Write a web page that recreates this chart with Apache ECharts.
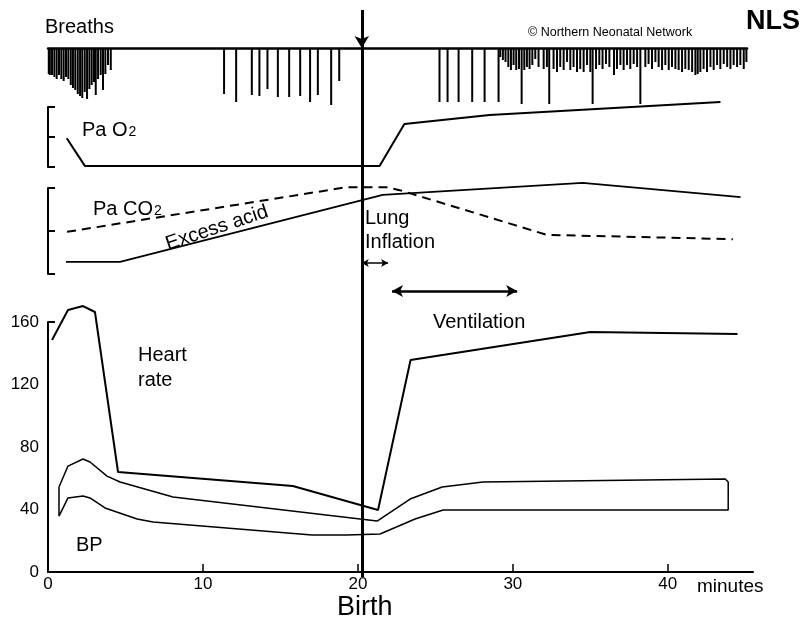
<!DOCTYPE html>
<html><head><meta charset="utf-8">
<script src="https://cdn.jsdelivr.net/npm/echarts@6/dist/echarts.min.js"></script>
<style>html,body{margin:0;padding:0;background:#fff}#c{width:804px;height:618px}</style>
</head><body><div id="c"></div>
<script>
// ---- Data (time in minutes) ----
const fetalBreathTimes = [0.05,0.12,0.26,0.41,0.56,0.71,0.86,1.01,1.16,1.31,1.47,1.61,1.76,1.92,2.07,2.21,2.37,2.52,2.67,2.82,2.97,3.08,3.23,3.40,3.55,3.70,3.87,4.05];
const fetalBreathDepths = [26,27,27,29,31,27,31,33,29,31,37,40,42,46,48,50,44,51,41,37,34,47,31,27,42,26,17,22];
const gaspTimes = [11.36,12.14,13.15,13.64,14.16,14.83,15.56,16.27,16.91,17.41,18.27,18.79];
const gaspDepths = [46,54,47,48,41,49,49,48,54,47,57,33];
const firstBreathTimes = [25.26,25.78,26.49,27.37,28.17,29.07];
const firstBreathDepths = [54,54,54,54,54,54];
const regularBreathTimes = [29.18,29.35,29.52,29.70,29.87,30.04,30.21,30.39,30.56,30.73,30.90,31.07,31.25,31.44,31.65,31.98,32.19,32.34,32.62,32.84,33.05,33.27,33.49,33.70,33.91,34.13,34.34,34.56,34.78,34.99,35.14,35.36,35.57,35.78,36.00,36.22,36.52,36.71,36.93,37.14,37.36,37.57,37.79,38.01,38.22,38.54,38.75,38.97,39.19,39.40,39.62,39.83,40.05,40.26,40.48,40.69,40.91,41.12,41.34,41.56,41.77,41.92,42.09,42.30,42.52,42.74,42.95,43.17,43.38,43.60,43.82,44.03,44.24,44.46,44.67,44.89,45.06];
const regularBreathDepths = [9,12,14,19,22,17,22,21,56,22,19,21,17,11,19,21,19,56,21,24,19,22,14,22,19,24,21,24,17,24,56,21,17,21,16,19,27,21,17,22,17,21,16,19,56,19,16,21,14,19,22,17,22,19,21,22,24,21,22,24,27,26,24,21,24,19,22,17,21,16,19,21,17,19,17,21,14];

const pao2Times = [1.21, 2.39, 21.4, 23.0, 28.5, 43.4];
const pao2Values = [0.96, 0.03, 0.03, 1.43, 1.73, 2.17];
const paco2Times = [1.23, 19.3, 21.8, 22.7, 32.2, 44.2];
const paco2Values = [0.98, 2.02, 2.02, 1.95, 0.91, 0.81];
const acidTimes = [1.16, 4.65, 21.6, 34.5, 44.7];
const acidValues = [0.28, 0.28, 1.84, 2.12, 1.79];

const hrTimes = [0.26, 1.29, 2.26, 3.03, 4.52, 15.8, 21.3, 23.4, 35.0, 44.5];
const hrValues = [148.5, 167.7, 170.2, 166.4, 64, 55, 39.7, 135.7, 153.6, 152.3];
const bpUpperTimes = [0.71, 1.29, 2.26, 2.71, 3.81, 4.65, 8.07, 21.24, 23.37, 25.44, 28.08, 43.71, 43.9];
const bpUpperValues = [54.4, 67.8, 72.3, 70.4, 61.4, 57.6, 48, 32.6, 46.7, 54.4, 57.6, 59.5, 57.6];
const bpLowerTimes = [0.71, 1.29, 2.26, 2.71, 3.68, 5.75, 6.78, 17.04, 19.3, 21.43, 23.69, 25.5, 43.9];
const bpLowerValues = [35.8, 47.4, 48.6, 47.4, 41, 33.9, 32, 23.7, 23.7, 24.3, 33.9, 39.7, 39.7];

const xTickLabels = [0, 10, 20, 30, 40];
const yTickLabels = [0, 40, 80, 120, 160];
const birthTime = 20.25;
const lungInflation = [20.25, 21.95];
const ventilation = [22.2, 30.28];

// ---- Build ----
const FONT = 'Liberation Sans, Arial, Helvetica, sans-serif';
const zip = (a, b) => a.map((t, i) => [t, b[i]]);
const breaths = [].concat(
  zip(fetalBreathTimes, fetalBreathDepths),
  zip(gaspTimes, gaspDepths),
  zip(firstBreathTimes, firstBreathDepths),
  zip(regularBreathTimes, regularBreathDepths)
);
const bpUpper = zip(bpUpperTimes, bpUpperValues);
const bpLower = zip(bpLowerTimes, bpLowerValues);
const bpPolygon = bpUpper.concat(bpLower.slice().reverse(), [bpUpper[0]]);

const XMAX = 45.5, LEFT = 48, WIDTH = 705;
const hiddenX = (g, max) => ({gridIndex: g, type: 'value', min: 0, max: max || XMAX, show: false});
const bracketY = (g) => ({
  gridIndex: g, type: 'value', min: 0, max: 2, interval: 1,
  axisLine: {show: true, lineStyle: {color: '#000', width: 2}},
  axisTick: {show: true, inside: true, length: 7, lineStyle: {color: '#000', width: 2}},
  axisLabel: {show: false}, splitLine: {show: false}
});
const blackLine = (w, type) => ({color: '#000', width: w, type: type || 'solid'});

const chart = echarts.init(document.getElementById('c'), null, {renderer: 'canvas'});
const option = {
  animation: false,
  backgroundColor: '#fff',
  grid: [
    {left: LEFT, top: 48, width: 699, height: 60},
    {left: LEFT, top: 107, width: WIDTH, height: 60},
    {left: LEFT, top: 188, width: WIDTH, height: 86},
    {left: LEFT, top: 322, width: WIDTH, height: 250},
    {left: LEFT, top: 0, width: WIDTH, height: 618}
  ],
  xAxis: [
    {gridIndex: 0, type: 'value', min: 0, max: 45.1, position: 'top',
     axisLine: {show: true, lineStyle: {color: '#000', width: 2.5}},
     axisTick: {show: false}, axisLabel: {show: false}, splitLine: {show: false}},
    hiddenX(1), hiddenX(2),
    {gridIndex: 3, type: 'value', min: 0, max: XMAX, interval: 10,
     axisLine: {show: true, lineStyle: {color: '#000', width: 2}},
     axisTick: {show: true, inside: true, length: 8, customValues: [10, 20, 30, 40], lineStyle: {color: '#000', width: 1.5}},
     axisLabel: {show: true, customValues: xTickLabels, color: '#000', fontSize: 17, fontFamily: FONT, margin: 4,
       formatter: v => (xTickLabels.indexOf(v) >= 0 ? String(v) : '')},
     splitLine: {show: false}},
    hiddenX(4)
  ],
  yAxis: [
    {gridIndex: 0, type: 'value', min: 0, max: 60, inverse: true, show: false},
    bracketY(1), bracketY(2),
    {gridIndex: 3, type: 'value', min: 0, max: 160, interval: 40,
     axisLine: {show: true, lineStyle: {color: '#000', width: 2}},
     axisTick: {show: false},
     axisLabel: {show: true, color: '#000', fontSize: 17, fontFamily: FONT, margin: 9,
       formatter: v => (yTickLabels.indexOf(v) >= 0 ? String(v) : '')},
     splitLine: {show: false}},
    {gridIndex: 4, type: 'value', min: 0, max: 618, inverse: true, show: false}
  ],
  series: [
    {name: 'Breaths', type: 'bar', xAxisIndex: 0, yAxisIndex: 0, data: breaths,
     barWidth: 2, itemStyle: {color: '#000'}, silent: true, clip: false},
    {name: 'PaO2', type: 'line', xAxisIndex: 1, yAxisIndex: 1, data: zip(pao2Times, pao2Values),
     showSymbol: false, symbol: 'none', clip: false, lineStyle: blackLine(2)},
    {name: 'PaCO2', type: 'line', xAxisIndex: 2, yAxisIndex: 2, data: zip(paco2Times, paco2Values),
     showSymbol: false, symbol: 'none', clip: false, lineStyle: blackLine(2, [9, 6])},
    {name: 'Excess acid', type: 'line', xAxisIndex: 2, yAxisIndex: 2, data: zip(acidTimes, acidValues),
     showSymbol: false, symbol: 'none', clip: false, lineStyle: blackLine(1.8)},
    {name: 'Heart rate', type: 'line', xAxisIndex: 3, yAxisIndex: 3, data: zip(hrTimes, hrValues),
     showSymbol: false, symbol: 'none', clip: false, lineStyle: blackLine(2),
     markLine: {silent: true, symbol: 'none', label: {show: false}, lineStyle: blackLine(2),
       data: [[{coord: [0, 160]}, {coord: [0.45, 160]}]]}},
    {name: 'BP', type: 'line', xAxisIndex: 3, yAxisIndex: 3, data: bpPolygon,
     showSymbol: false, symbol: 'none', clip: false, lineStyle: blackLine(1.5)},
    {name: 'annotations', type: 'line', xAxisIndex: 4, yAxisIndex: 4, data: [[0, 0]],
     symbol: 'none', lineStyle: {opacity: 0}, silent: true,
     markLine: {silent: true, label: {show: false}, animation: false,
       data: [
         [{coord: [birthTime, 10], symbol: 'none'}, {coord: [birthTime, 48], symbol: 'arrow', symbolSize: [11, 12], lineStyle: blackLine(3)}],
         [{coord: [birthTime, 48], symbol: 'none'}, {coord: [birthTime, 577], symbol: 'none', lineStyle: blackLine(3)}],
         [{coord: [lungInflation[0], 263], symbol: 'arrow', symbolSize: [6, 7]}, {coord: [lungInflation[1], 263], symbol: 'arrow', symbolSize: [6, 7], lineStyle: blackLine(1.5)}],
         [{coord: [ventilation[0], 291], symbol: 'arrow', symbolSize: [9, 11]}, {coord: [ventilation[1], 291], symbol: 'arrow', symbolSize: [9, 11], lineStyle: blackLine(2.5)}]
       ],
       lineStyle: blackLine(2), itemStyle: {color: '#000'}}}
  ],
  graphic: [
    {type: 'text', x: 45, y: 27, style: {text: 'Breaths', font: '20px ' + FONT, fill: '#000', verticalAlign: 'middle'}},
    {type: 'text', x: 528, y: 33, style: {text: '© Northern Neonatal Network', font: '12.5px ' + FONT, fill: '#000', verticalAlign: 'middle'}},
    {type: 'text', x: 746, y: 22, style: {text: 'NLS', font: 'bold 27px ' + FONT, fill: '#000', verticalAlign: 'middle'}},
    {type: 'text', x: 82, y: 120, style: {text: '{a|Pa O}{b|2}', fill: '#000',
      rich: {a: {fontSize: 20, fontFamily: FONT, color: '#000'}, b: {fontSize: 14, fontFamily: FONT, color: '#000', padding: [4, 0, 0, 1]}}}},
    {type: 'text', x: 93, y: 199, style: {text: '{a|Pa CO}{b|2}', fill: '#000',
      rich: {a: {fontSize: 20, fontFamily: FONT, color: '#000'}, b: {fontSize: 14, fontFamily: FONT, color: '#000', padding: [4, 0, 0, 1]}}}},
    {type: 'text', x: 217, y: 228, rotation: 18.4 * Math.PI / 180,
      style: {text: 'Excess acid', font: '20px ' + FONT, fill: '#000', align: 'center', verticalAlign: 'middle'}},
    {type: 'text', x: 365, y: 218, style: {text: 'Lung', font: '20px ' + FONT, fill: '#000', verticalAlign: 'middle'}},
    {type: 'text', x: 365, y: 242, style: {text: 'Inflation', font: '20px ' + FONT, fill: '#000', verticalAlign: 'middle'}},
    {type: 'text', x: 433, y: 322, style: {text: 'Ventilation', font: '20px ' + FONT, fill: '#000', verticalAlign: 'middle'}},
    {type: 'text', x: 138, y: 355, style: {text: 'Heart', font: '20px ' + FONT, fill: '#000', verticalAlign: 'middle'}},
    {type: 'text', x: 138, y: 380, style: {text: 'rate', font: '20px ' + FONT, fill: '#000', verticalAlign: 'middle'}},
    {type: 'text', x: 76, y: 545, style: {text: 'BP', font: '20px ' + FONT, fill: '#000', verticalAlign: 'middle'}},
    {type: 'text', x: 697, y: 587, style: {text: 'minutes', font: '19px ' + FONT, fill: '#000', verticalAlign: 'middle'}},
    {type: 'text', x: 337, y: 608, style: {text: 'Birth', font: '27px ' + FONT, fill: '#000', verticalAlign: 'middle'}}
  ]
};
chart.setOption(option);
</script>
</body></html>
